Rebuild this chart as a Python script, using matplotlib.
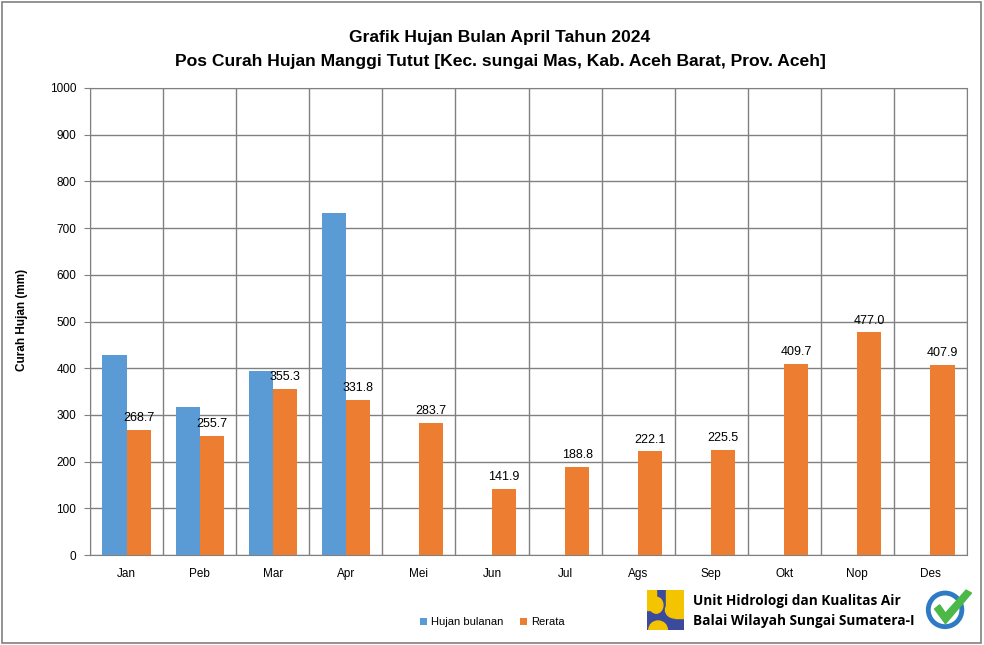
import numpy as np
import matplotlib
matplotlib.use('Agg')
import matplotlib.pyplot as plt
from matplotlib.patches import Rectangle, Circle, Polygon, Ellipse

months = ['Jan', 'Peb', 'Mar', 'Apr', 'Mei', 'Jun',
          'Jul', 'Ags', 'Sep', 'Okt', 'Nop', 'Des']
hujan_bulanan = [428, 317, 394, 732, 0, 0, 0, 0, 0, 0, 0, 0]
rerata = [268.7, 255.7, 355.3, 331.8, 283.7, 141.9,
          188.8, 222.1, 225.5, 409.7, 477.0, 407.9]

BLUE = '#5B9BD5'
ORANGE = '#ED7D31'
GRID = '#808080'

plt.rcParams['font.family'] = ['Liberation Sans', 'DejaVu Sans']

fig = plt.figure(figsize=(9.84, 6.45), dpi=100)
ax = fig.add_axes([0.0915, 0.1395, 0.8912, 0.7241])

x = np.arange(len(months))
w = 0.33
ax.bar(x - w / 2, hujan_bulanan, width=w, color=BLUE, label='Hujan bulanan', zorder=3)
bars = ax.bar(x + w / 2, rerata, width=w, color=ORANGE, label='Rerata', zorder=3)
for b, v in zip(bars, rerata):
    ax.text(b.get_x() + b.get_width() / 2, v + 12, f'{v:.1f}',
            ha='center', va='bottom', fontsize=9, zorder=4)

ax.set_xlim(-0.5, len(months) - 0.5)
ax.set_ylim(0, 1000)
ax.set_yticks(np.arange(0, 1001, 100))
ax.set_xticks(x)
ax.set_xticklabels(months, fontsize=8.5)
ax.tick_params(axis='y', labelsize=8.5, length=4, color=GRID, pad=6)
ax.tick_params(axis='x', length=0, pad=9)
ax.set_xticks(np.arange(-0.5, len(months)), minor=True)
ax.tick_params(axis='x', which='minor', length=0)
ax.grid(True, axis='y', color=GRID, lw=1, zorder=0)
ax.grid(True, axis='x', which='minor', color=GRID, lw=1, zorder=0)
ax.grid(False, axis='x', which='major')
for s in ax.spines.values():
    s.set_color(GRID)

fig.text(22 / 984, 1 - 320 / 645, 'Curah Hujan (mm)', rotation=90,
         ha='center', va='center', fontsize=8.5, fontweight='bold')

fig.text(500 / 984, 0.942, 'Grafik Hujan Bulan April Tahun 2024',
         ha='center', va='center', fontsize=12.6, fontweight='bold')
fig.text(500 / 984, 0.905, 'Pos Curah Hujan Manggi Tutut [Kec. sungai Mas, Kab. Aceh Barat, Prov. Aceh]',
         ha='center', va='center', fontsize=12.6, fontweight='bold')

fig.legend(loc='center', bbox_to_anchor=(0.5, 0.035), ncol=2, frameon=False,
           fontsize=8, handlelength=0.7, handleheight=0.7, handletextpad=0.3,
           columnspacing=1.5)

# logo approximation (PU logo)
lax = fig.add_axes([647 / 984, 1 - 630 / 645, 37 / 984, 40 / 645])
lax.set_xlim(0, 1)
lax.set_ylim(0, 1)
lax.axis('off')
YEL = '#F5C400'
lax.add_patch(Rectangle((0, 0), 1, 1, color='#3B4A9C'))
lax.add_patch(Rectangle((0, 0.5), 0.25, 0.5, color=YEL))
lax.add_patch(Ellipse((0.25, 0.62), 0.36, 0.4, color=YEL))
lax.add_patch(Rectangle((0.5, 0.5), 0.5, 0.5, color=YEL))
lax.add_patch(Rectangle((0.75, 0.3), 0.25, 0.2, color=YEL))
lax.add_patch(Ellipse((0.75, 0.5), 0.5, 0.4, color=YEL))
lax.add_patch(Ellipse((0.3, 0.0), 0.5, 0.45, color=YEL))

fig.text(693 / 984, 1 - 601 / 645, 'Unit Hidrologi dan Kualitas Air', fontsize=9.8,
         fontweight='bold', va='center', family=['Open Sans', 'DejaVu Sans'])
fig.text(693 / 984, 1 - 621 / 645, 'Balai Wilayah Sungai Sumatera-I', fontsize=9.8,
         fontweight='bold', va='center', family=['Open Sans', 'DejaVu Sans'])

# ISO badge approximation
bax = fig.add_axes([922 / 984, 1 - 630 / 645, 52 / 984, 42 / 645])
bax.set_xlim(0, 1.24)
bax.set_ylim(0, 1)
bax.axis('off')
bax.add_patch(Circle((0.55, 0.48), 0.4, fill=False, ec='#2E7BC4', lw=3.5))
bax.add_patch(Polygon([[0.3, 0.5], [0.42, 0.6], [0.56, 0.4], [1.05, 0.95],
                       [1.18, 0.88], [0.56, 0.15]], closed=True, color='#4CB848'))

fig.add_artist(Rectangle((0.002, 0.003), 0.995, 0.994, transform=fig.transFigure,
                         fill=False, ec=GRID, lw=1.2))

fig.savefig('out.png', dpi=100)
